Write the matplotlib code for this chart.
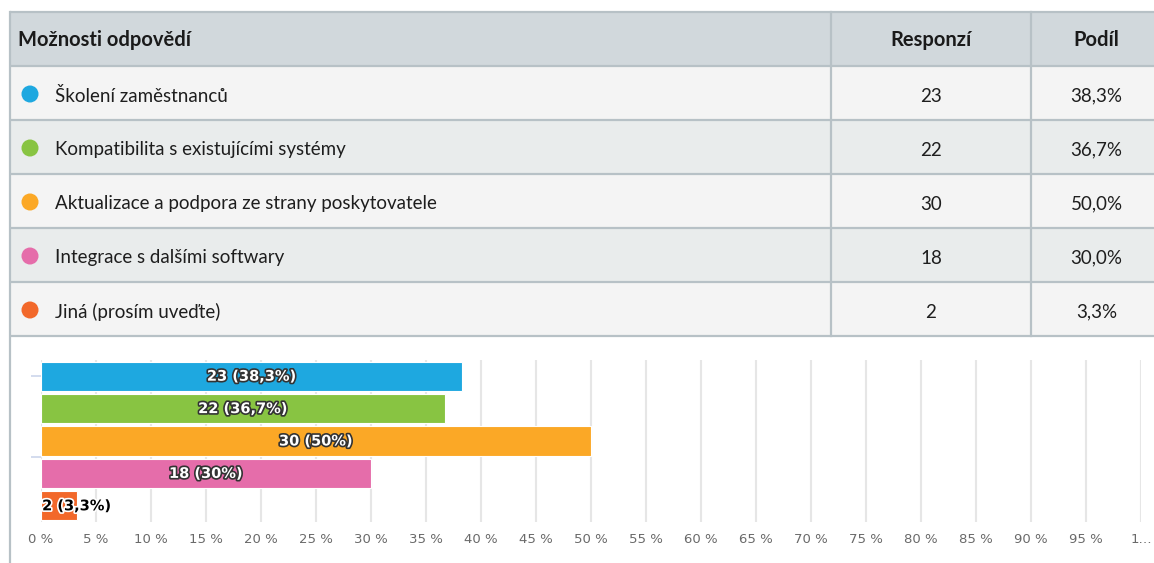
import matplotlib.pyplot as plt
import matplotlib.patheffects as pe
from matplotlib.patches import Rectangle, Circle

W, H = 1154, 563

# Data
options = ['Školení zaměstnanců',
           'Kompatibilita s existujícími systémy',
           'Aktualizace a podpora ze strany poskytovatele',
           'Integrace s dalšími softwary',
           'Jiná (prosím uveďte)']
counts = [23, 22, 30, 18, 2]
shares = [38.3, 36.7, 50.0, 30.0, 3.3]
colors = ['#1ea8e0', '#88c442', '#fba826', '#e56daa', '#f2682a']
headers = ['Možnosti odpovědí', 'Responzí', 'Podíl']
xticks = list(range(0, 101, 5))
xticklabels = ['%d %%' % t for t in range(0, 100, 5)] + ['1…']

table_font = ['Lato', 'DejaVu Sans']
border = '#b7c1c6'

fig = plt.figure(figsize=(W / 100, H / 100), dpi=100)

# Background axes in pixel coordinates for the table
bg = fig.add_axes([0, 0, 1, 1])
bg.set_xlim(0, W)
bg.set_ylim(H, 0)
bg.axis('off')

top, row_h = 12, 54
left, c1, c2, right = 10, 831, 1031, 1162

# header
bg.add_patch(Rectangle((left, top), right - left, row_h, facecolor='#d1d8dc', edgecolor='none'))
for i in range(len(options)):
    y0 = top + row_h * (i + 1)
    fc = '#f4f4f4' if i % 2 == 0 else '#e9ecec'
    bg.add_patch(Rectangle((left, y0), right - left, row_h, facecolor=fc, edgecolor='none'))

# grid lines of the table
for k in range(len(options) + 2):
    y = top + row_h * k
    bg.plot([left, right], [y, y], color=border, lw=1.6, solid_capstyle='butt')
bottom = top + row_h * (len(options) + 1)
for x in (c1, c2):
    bg.plot([x, x], [top, bottom], color=border, lw=1.6)
bg.plot([left, left], [top, H], color=border, lw=1.6)

# header texts
hy = top + row_h / 2 + 1
bg.text(18, hy, headers[0], ha='left', va='center', fontsize=14.5, fontweight='bold',
        family=table_font, color='#1a1a1a')
bg.text((c1 + c2) / 2, hy, headers[1], ha='center', va='center', fontsize=14.5,
        fontweight='bold', family=table_font, color='#1a1a1a')
bg.text((c2 + right) / 2, hy, headers[2], ha='center', va='center', fontsize=14.5,
        fontweight='bold', family=table_font, color='#1a1a1a')

# rows
for i, (opt, n, s, c) in enumerate(zip(options, counts, shares, colors)):
    yc = top + row_h * (i + 1) + row_h / 2 + 3
    bg.add_patch(Circle((30, yc - 2), 8.5, facecolor=c, edgecolor='none'))
    bg.text(55, yc, opt, ha='left', va='center', fontsize=13.5, family=table_font, color='#1e1e1e')
    bg.text((c1 + c2) / 2, yc, str(n), ha='center', va='center', fontsize=13.5,
            family=table_font, color='#1e1e1e')
    bg.text((c2 + right) / 2, yc, ('%.1f' % s).replace('.', ',') + '%', ha='center',
            va='center', fontsize=13.5, family=table_font, color='#1e1e1e')

# Bar chart
px0, px1, py0, py1 = 41, 1141, 360, 522
ax = fig.add_axes([px0 / W, 1 - py1 / H, (px1 - px0) / W, (py1 - py0) / H])
ypos = list(range(len(options)))
ax.barh(ypos, shares, height=0.9, color=colors, edgecolor='white', linewidth=0.8, zorder=3)
ax.set_xlim(0, 100)
ax.set_ylim(len(options) - 0.5, -0.5)
ax.set_xticks(xticks)
ax.set_xticklabels(xticklabels, fontsize=9.5, color='#6a6a6a')
ax.tick_params(axis='x', length=0, pad=8)
ax.set_yticks([0, 2.5])
ax.set_yticklabels([])
ax.tick_params(axis='y', length=7, width=1.2, color='#ccd6eb')
ax.grid(axis='x', color='#e6e6e6', lw=1.5, zorder=0)
for sp in ax.spines.values():
    sp.set_visible(False)

for i, (n, s) in enumerate(zip(counts, shares)):
    lab = '%d (%s%%)' % (n, ('%g' % s).replace('.', ','))
    if s > 10:
        ax.text(s / 2, i, lab, ha='center', va='center', fontsize=10.5, fontweight='bold',
                color='white', zorder=4,
                path_effects=[pe.withStroke(linewidth=2.4, foreground='#333333')])
    else:
        ax.text(0.1, i, lab, ha='left', va='center', fontsize=10.5, fontweight='bold',
                color='black', zorder=4,
                path_effects=[pe.withStroke(linewidth=2.4, foreground='white')])

fig.savefig('out.png', dpi=100)
